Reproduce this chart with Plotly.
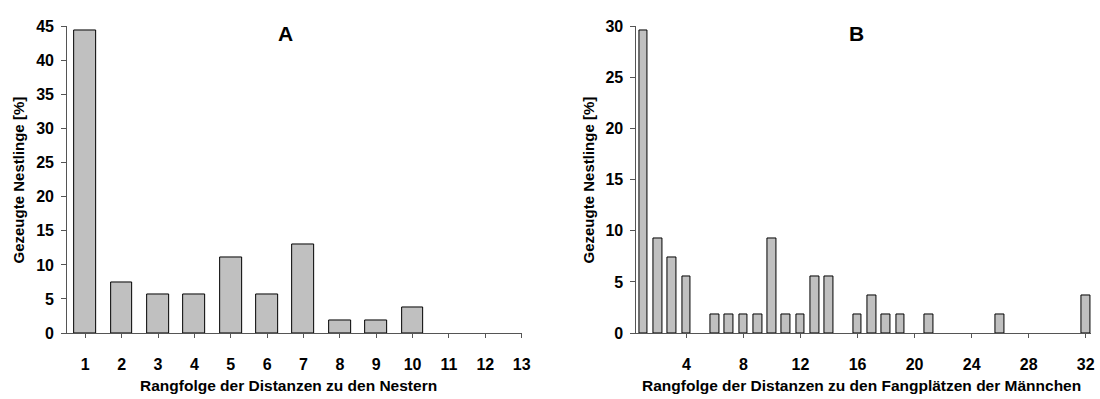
import plotly.graph_objects as go

# Panel A data
ranks_a = list(range(1, 14))
values_a = [44.4, 7.4, 5.6, 5.6, 11.1, 5.6, 13.0, 1.85, 1.85, 3.7, 0, 0, 0]
xticks_a = list(range(1, 14))

# Panel B data
ranks_b = list(range(1, 33))
values_b = [29.6, 9.26, 7.4, 5.56, 0, 1.85, 1.85, 1.85, 1.85, 9.26,
            1.85, 1.85, 5.56, 5.56, 0, 1.85, 3.7, 1.85, 1.85, 0,
            1.85, 0, 0, 0, 0, 1.85, 0, 0, 0, 0, 0, 3.7]
xticks_b = [4, 8, 12, 16, 20, 24, 28, 32]

y_title = "Gezeugte Nestlinge [%]"
x_title_a = "Rangfolge der Distanzen zu den Nestern"
x_title_b = "Rangfolge der Distanzen zu den Fangplätzen der Männchen"

W, H = 1100, 399
FONT = "Arial, Liberation Sans, sans-serif"
BAR = "#c0c0c0"
AX = "#555555"


def outline(vals):
    return [1 if v > 0 else 0 for v in vals]


fig = go.Figure()
fig.add_trace(go.Bar(x=ranks_a, y=values_a, width=0.6,
                     marker=dict(color=BAR, line=dict(color="black", width=outline(values_a))),
                     xaxis="x", yaxis="y", showlegend=False))
fig.add_trace(go.Bar(x=ranks_b, y=values_b, width=0.6,
                     marker=dict(color=BAR, line=dict(color="black", width=outline(values_b))),
                     xaxis="x2", yaxis="y2", showlegend=False))

ydom = [(H - 339.5) / H, (H - 19.3) / H]
xa = [67.7 / W, 526 / W]
xb = [641.7 / W, 1.0]

tickfont = dict(family=FONT, size=16, color="black", weight="bold")
common_x = dict(showline=True, linecolor=AX, linewidth=1, ticks="outside", ticklen=4, tickcolor=AX,
                showgrid=False, zeroline=False, tickfont=tickfont, ticklabelstandoff=13)
common_y = dict(showline=True, linecolor=AX, linewidth=1, ticks="outside", ticklen=5, tickcolor=AX,
                showgrid=False, zeroline=False, tickfont=tickfont, ticklabelstandoff=4)

fig.update_layout(
    width=W, height=H, margin=dict(l=0, r=0, t=0, b=0),
    paper_bgcolor="white", plot_bgcolor="white", bargap=0,
    xaxis=dict(domain=xa, range=[0.5, 13], tickvals=xticks_a, anchor="y", **common_x),
    yaxis=dict(domain=ydom, range=[0, 45], tickvals=[0, 5, 10, 15, 20, 25, 30, 35, 40, 45], anchor="x", **common_y),
    xaxis2=dict(domain=xb, range=[0.5, 32.37], tickvals=xticks_b, anchor="y2", **common_x),
    yaxis2=dict(domain=ydom, range=[0, 30], tickvals=[0, 5, 10, 15, 20, 25, 30], anchor="x2", **common_y),
)

ann_font = dict(family=FONT, size=15.5, color="black", weight="bold")
yt_font = dict(family=FONT, size=15, color="black", weight="bold")
anns = [
    dict(text="A", x=287.5 / W, y=(H - 27) / H, font=dict(family=FONT, size=21, color="black", weight="bold")),
    dict(text="B", x=864 / W, y=(H - 27) / H, font=dict(family=FONT, size=21, color="black", weight="bold")),
    dict(text=x_title_a, x=291 / W, y=(H - 394) / H, font=ann_font),
    dict(text=x_title_b, x=869 / W, y=(H - 394) / H, font=ann_font),
    dict(text=y_title, x=18.3 / W, y=(H - 180) / H, textangle=-90, font=yt_font),
    dict(text=y_title, x=593 / W, y=(H - 180) / H, textangle=-90, font=yt_font),
]
for a in anns:
    a.update(xref="paper", yref="paper", xanchor="center", yanchor="middle", showarrow=False)
fig.update_layout(annotations=anns)

fig.write_html("out.html")
